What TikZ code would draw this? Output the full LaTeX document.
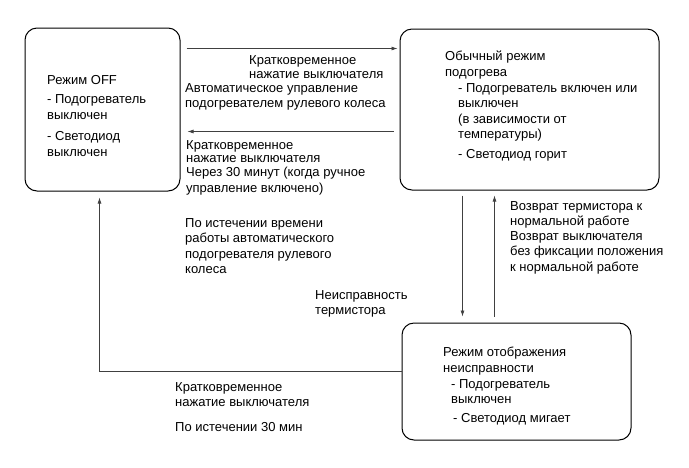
\documentclass[tikz,border=0pt]{standalone}
\usepackage{fontspec}
\setmainfont{Liberation Sans}
\usetikzlibrary{arrows.meta,positioning}
\tikzset{
  modebox/.style={rectangle,rounded corners=12pt,draw=black,line width=1pt,inner sep=0pt},
  note/.style={anchor=north west,inner sep=0pt,align=left,font=\fontsize{13}{15.5}\selectfont},
  arrow/.style={-{Latex[length=6pt,width=4pt]},line width=0.7pt,draw=black!75}
}
\begin{document}
\begin{tikzpicture}[x=1pt,y=-1pt]
\useasboundingbox (0,0) rectangle (689,467);
% mode boxes
\node[modebox,minimum width=155pt,minimum height=163pt] (off) at (102.5,109.5) {};
\node[modebox,minimum width=259pt,minimum height=161pt] (normal) at (529.5,109.5) {};
\node[modebox,minimum width=229pt,minimum height=117pt] (fault) at (516.5,381.5) {};
% box texts
\node[note] (offtxt) at (47,75) {Режим OFF\\[4pt]- Подогреватель\\выключен\\[6pt]- Светодиод\\выключен};
\node[note] (normtxt) at (445,51) {Обычный режим\\подогрева};
\node[note] (normlist) at (458,83) {- Подогреватель включен или\\выключен\\(в зависимости от\\температуры)\\[4pt]- Светодиод горит};
\node[note] (faulttxt) at (443,347) {Режим отображения\\неисправности};
\node[note] (faultlist) at (451,379) {- Подогреватель\\выключен\\[3pt]\hspace{2pt}- Светодиод мигает};
% transition labels
\node[note] (press1) at (249,55) {Кратковременное\\[-1pt]нажатие выключателя};
\node[note] (auto) at (185,83) {Автоматическое управление\\подогревателем рулевого колеса};
\node[note] (press2) at (186,140) {Кратковременное\\[-2pt]нажатие выключателя};
\node[note] (after30) at (186,167) {Через 30 минут (когда ручное\\управление включено)};
\node[note] (autoend) at (185,218) {По истечении времени\\работы автоматического\\подогревателя рулевого\\колеса};
\node[note] (thermfail) at (315,290) {Неисправность\\термистора};
\node[note] (thermok) at (510,201) {Возврат термистора к\\нормальной работе};
\node[note] (switchok) at (510,231) {Возврат выключателя\\без фиксации положения\\к нормальной работе};
\node[note] (press3) at (175,382) {Кратковременное\\нажатие выключателя};
\node[note] (end30) at (175,422) {По истечении 30 мин};
% transitions
\draw[arrow,shorten <=6pt,shorten >=2pt] ([yshift=-21pt]off.north east) -- ([yshift=-20pt]normal.north west);
\draw[arrow,shorten <=6pt,shorten >=7pt] ([yshift=-103pt]normal.north west) -- ([yshift=-104pt]off.north east);
\draw[arrow,shorten <=5pt,shorten >=6pt] ([xshift=63pt]normal.south west) -- ([xshift=61pt]fault.north west);
\draw[arrow,shorten <=6pt,shorten >=5pt] ([xshift=93pt]fault.north west) -- ([xshift=95pt]normal.south west);
\draw[arrow,shorten >=6pt] ([yshift=-49pt]fault.north west) -| ([xshift=75pt]off.south west);
\end{tikzpicture}
\end{document}
